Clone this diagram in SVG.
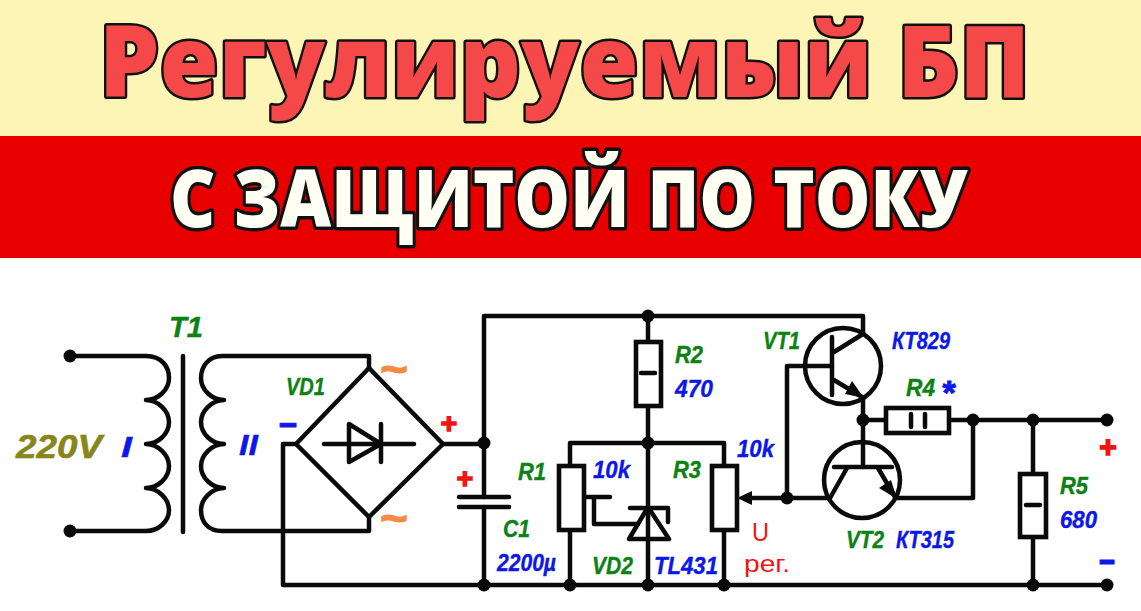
<svg xmlns="http://www.w3.org/2000/svg" width="1141" height="611" viewBox="0 0 1141 611">
<style>
.w{fill:none;stroke:#0a0a0a;stroke-width:4.5;stroke-linecap:round;stroke-linejoin:round}
.b{fill:#fff;stroke:#0a0a0a;stroke-width:4.6;stroke-linejoin:miter}
.d{fill:#0a0a0a;stroke:none}
.g,.u{font-family:"Liberation Sans",Arial,sans-serif;font-weight:bold;font-style:italic;font-size:24px;stroke-width:.4}
.g{fill:#0d8214;stroke:#0d8214}.u{fill:#0d17e8;stroke:#0d17e8}
.r{font-family:"Liberation Sans",Arial,sans-serif;font-size:24px;fill:#f01414}
.s{font-family:"Liberation Sans",Arial,sans-serif;font-weight:bold}
.h{font-family:"Open Sans","Noto Sans",sans-serif;font-weight:800;stroke:#111;paint-order:stroke;stroke-linejoin:round}
</style>
<rect width="1141" height="611" fill="#fff"/>
<g id="header">
<rect width="1141" height="136" fill="#fcf5b5"/>
<rect y="136" width="1141" height="122" fill="#e80000"/>
<text class="h" x="99" y="97" font-size="100" fill="#f54848" stroke-width="5" textLength="931" lengthAdjust="spacingAndGlyphs">Регулируемый БП</text>
<text class="h" x="170" y="226.500" font-size="80" fill="#fffff4" stroke-width="7" textLength="797" lengthAdjust="spacingAndGlyphs">С ЗАЩИТОЙ ПО ТОКУ</text>
</g>
<g id="connectors">
<path class="w" d="M70 356H146C162 356 169 367 169 378C169 390 158 400 146 400C158 400 169 411 169 422C169 434 158 444 146 444C158 444 169 455 169 466C169 478 158 488 146 488C158 488 169 499 169 510C169 522 158 531 146 531H70"/>
<path class="w" d="M369 368V356H222C208 356 201 367 201 378C201 390 212 400 224 400C212 400 201 411 201 422C201 434 212 444 224 444C212 444 201 455 201 466C201 478 212 488 224 488C212 488 201 499 201 510C201 522 208 531 222 531H369V517"/>
<path class="w" d="M296 444H283V585H1107"/>
<path class="w" d="M443 444H484M484 316V497M484 507V585M484 316H863V334"/>
<path class="w" d="M648 316V341M648 406V585M570 465V443H724V465M570 531V585M724 531V585"/>
<path class="w" d="M585 497H610M594 497V524H638"/>
<path class="w" d="M745 498H830M787 498V366H832"/>
<path class="w" d="M863 398V467M863 420H885M950 420H1107M973 420V498H897M1033 420V473M1033 538V585"/>
<g class="d">
<circle cx="484" cy="443" r="6.5"/><circle cx="484" cy="585" r="6.5"/><circle cx="648" cy="316" r="6.5"/><circle cx="648" cy="443" r="6.5"/><circle cx="648" cy="585" r="6.5"/><circle cx="570" cy="585" r="6.5"/><circle cx="724" cy="585" r="6.5"/><circle cx="787" cy="498" r="6.5"/><circle cx="863" cy="420" r="6.5"/><circle cx="973" cy="420" r="6.5"/><circle cx="1033" cy="420" r="6.5"/><circle cx="1033" cy="585" r="6.5"/>
</g>
</g>
<g id="X1"><circle class="d" cx="70" cy="356" r="6.5"/><circle class="d" cx="70" cy="531" r="6.5"/><text x="16" y="458" font-size="34" font-family="Liberation Sans,sans-serif" font-weight="bold" font-style="italic" fill="#86861a" stroke="#86861a" stroke-width=".6" textLength="86" lengthAdjust="spacingAndGlyphs">220V</text></g>
<g id="T1">
<path class="w" d="M183 356V532"/>
<text class="g" x="169" y="337" style="font-size:30px" textLength="34" lengthAdjust="spacingAndGlyphs">T1</text>
<text class="u" x="121" y="457" style="font-size:30px" textLength="11" lengthAdjust="spacingAndGlyphs">I</text>
<text class="u" x="239" y="455" style="font-size:30px" textLength="19" lengthAdjust="spacingAndGlyphs">II</text>
</g>
<g id="VD1">
<path class="w" d="M369 368L443 444L369 517L296 444Z"/>
<path class="w" d="M324 444H414M349 424V462L381 444ZM381 424V462"/>
<text class="g" x="286" y="395" textLength="39" lengthAdjust="spacingAndGlyphs">VD1</text>
<text class="s" x="288" y="436" font-size="38" fill="#0d17e8" stroke="#0d17e8" stroke-width="1" text-anchor="middle" textLength="18" lengthAdjust="spacingAndGlyphs">–</text>
<text class="s" x="449" y="433" font-size="28" fill="#f01414" stroke="#f01414" stroke-width="1.6" text-anchor="middle">+</text>
<text class="s" x="394" y="385" font-size="46" fill="#f58a45" stroke="#f58a45" stroke-width="1" text-anchor="middle" textLength="28" lengthAdjust="spacingAndGlyphs">~</text>
<text class="s" x="394" y="534" font-size="46" fill="#f58a45" stroke="#f58a45" stroke-width="1" text-anchor="middle" textLength="28" lengthAdjust="spacingAndGlyphs">~</text>
</g>
<g id="C1">
<path class="w" d="M459 497H509M459 507H509"/>
<text class="s" x="465" y="488" font-size="28" fill="#f01414" stroke="#f01414" stroke-width="1.6" text-anchor="middle">+</text>
<text class="g" x="503" y="537" textLength="27" lengthAdjust="spacingAndGlyphs">C1</text>
<text class="u" x="497" y="571" textLength="59" lengthAdjust="spacingAndGlyphs">2200µ</text>
</g>
<g id="R1"><rect class="b" x="559" y="466" width="25" height="64"/>
<text class="g" x="518" y="480" textLength="28" lengthAdjust="spacingAndGlyphs">R1</text>
<text class="u" x="593" y="478" textLength="37" lengthAdjust="spacingAndGlyphs">10k</text></g>
<g id="R2"><rect class="b" x="636" y="342" width="25" height="64"/><path class="w" d="M641 373H655"/>
<text class="g" x="675" y="363" textLength="28" lengthAdjust="spacingAndGlyphs">R2</text>
<text class="u" x="675" y="397" textLength="38" lengthAdjust="spacingAndGlyphs">470</text></g>
<g id="R3"><rect class="b" x="712" y="466" width="25" height="64"/>
<path class="d" d="M737 498L752 491V505Z"/>
<text class="g" x="673" y="478" textLength="28" lengthAdjust="spacingAndGlyphs">R3</text>
<text class="u" x="737" y="457" textLength="37" lengthAdjust="spacingAndGlyphs">10k</text>
<text class="r" x="752" y="541" style="font-size:26px" textLength="17" lengthAdjust="spacingAndGlyphs">U</text>
<text class="r" x="744" y="572" textLength="46" lengthAdjust="spacingAndGlyphs">рег.</text></g>
<g id="VD2">
<path class="w" d="M648 507L669 539H629ZM630 508H668V522"/>
<text class="g" x="592" y="574" textLength="41" lengthAdjust="spacingAndGlyphs">VD2</text>
<text class="u" x="654" y="574" textLength="64" lengthAdjust="spacingAndGlyphs">TL431</text>
</g>
<g id="VT1">
<circle class="w" cx="843" cy="366" r="38"/>
<path class="w" d="M832 337V395M834 352L863 334M834 380L862 397"/>
<path class="d" d="M864 398L845 394L852 381Z"/>
<text class="g" x="763" y="349" textLength="37" lengthAdjust="spacingAndGlyphs">VT1</text>
<text class="u" x="892" y="349" textLength="58" lengthAdjust="spacingAndGlyphs">КТ829</text>
</g>
<g id="VT2">
<circle class="w" cx="862" cy="480" r="38"/>
<path class="w" d="M834 467H892M847 468L830 498M878 468L895 497"/>
<path class="d" d="M897 499L879 488L891 480Z"/>
<text class="g" x="846" y="548" textLength="38" lengthAdjust="spacingAndGlyphs">VT2</text>
<text class="u" x="896" y="548" textLength="58" lengthAdjust="spacingAndGlyphs">КТ315</text>
</g>
<g id="R4"><rect class="b" x="886" y="408" width="63" height="25"/><path class="w" d="M911 414V427M925 414V427"/>
<text class="g" x="906" y="396" textLength="29" lengthAdjust="spacingAndGlyphs">R4</text>
<text class="s" x="949" y="404" font-size="34" fill="#0d17e8" stroke="#0d17e8" stroke-width="1" text-anchor="middle">*</text></g>
<g id="R5"><rect class="b" x="1020" y="474" width="26" height="63"/><path class="w" d="M1026 505H1040"/>
<text class="g" x="1060" y="494" textLength="28" lengthAdjust="spacingAndGlyphs">R5</text>
<text class="u" x="1060" y="528" textLength="37" lengthAdjust="spacingAndGlyphs">680</text></g>
<g id="output"><circle class="d" cx="1107" cy="420" r="6.5"/><circle class="d" cx="1107" cy="585" r="6.5"/>
<text class="s" x="1108" y="457" font-size="30" fill="#f01414" stroke="#f01414" stroke-width="1.6" text-anchor="middle">+</text>
<text class="s" x="1107" y="573" font-size="40" fill="#0d17e8" stroke="#0d17e8" stroke-width="1" text-anchor="middle" textLength="16" lengthAdjust="spacingAndGlyphs">–</text></g>
</svg>
